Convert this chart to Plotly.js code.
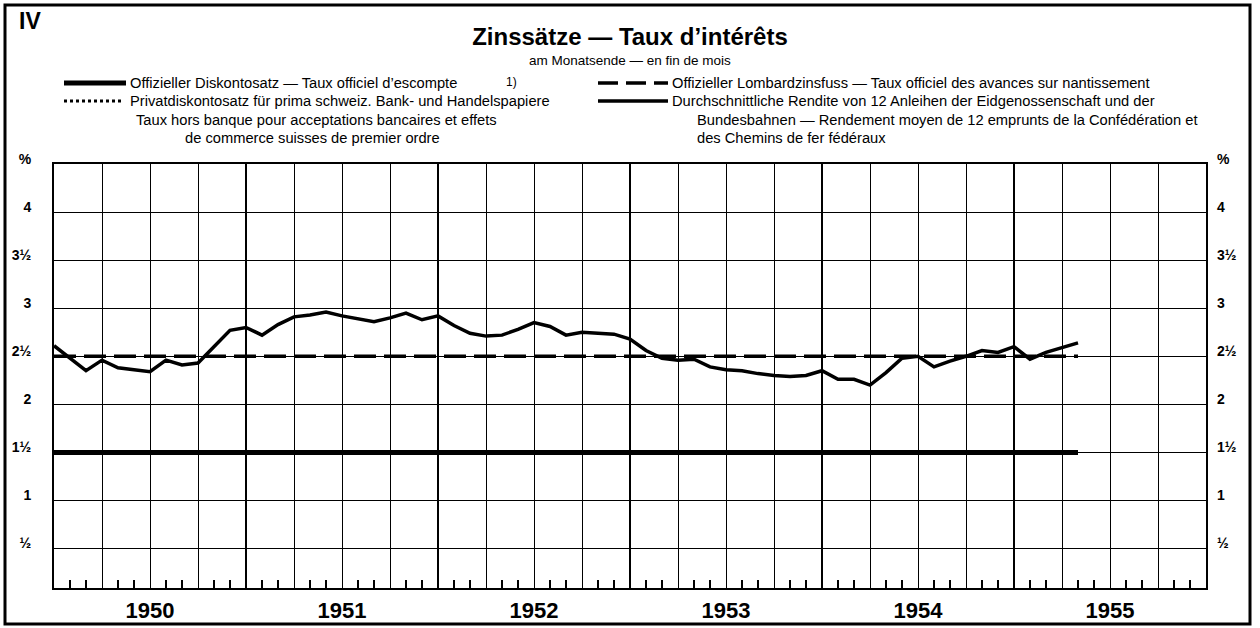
<!DOCTYPE html>
<html><head><meta charset="utf-8">
<script src="https://cdn.plot.ly/plotly-3.0.1.min.js"></script>
<style>html,body{margin:0;padding:0;background:#fff}#chart{width:1260px;height:628px}</style>
</head><body><div id="chart"></div>
<script>
// Month index: 0 = end of Dec 1949 (left edge), 12 = end of Dec 1950, ... 64 = end of Apr 1955
const monthIndex = [0,1,2,3,4,5,6,7,8,9,10,11,12,13,14,15,16,17,18,19,20,21,22,23,24,25,26,27,28,29,30,31,32,33,34,35,36,37,38,39,40,41,42,43,44,45,46,47,48,49,50,51,52,53,54,55,56,57,58,59,60,61,62,63,64];
const bondYield = [2.61,2.48,2.35,2.46,2.38,2.36,2.34,2.46,2.41,2.43,2.60,2.77,
                   2.80,2.72,2.83,2.91,2.93,2.96,2.92,2.89,2.86,2.90,2.95,2.88,
                   2.92,2.82,2.74,2.71,2.72,2.78,2.85,2.81,2.72,2.75,2.74,2.73,
                   2.68,2.56,2.48,2.46,2.47,2.39,2.36,2.35,2.32,2.30,2.29,2.30,
                   2.35,2.26,2.26,2.20,2.33,2.48,2.50,2.39,2.45,2.50,2.56,2.54,
                   2.60,2.47,2.54,2.59,2.64];
const rateMonths = [0, 64];
const officialDiscount = [1.5, 1.5];
const privateDiscount = [1.5, 1.5];
const lombardRate = [2.5, 2.5];
const yTickVals = [0.5,1,1.5,2,2.5,3,3.5,4,4.5];
const yTickText = ['½','1','1½','2','2½','3','3½','4','%'];
const yearTickVals = [6,18,30,42,54,66];
const yearLabels = ['1950','1951','1952','1953','1954','1955'];

const FONT = 'Liberation Sans, Arial, Helvetica, sans-serif';
const L = 54, R = 1206, T = 164, B = 588;
const fx = p => (p - L) / (R - L);
const fy = p => (B - p) / (B - T);

const traces = [
  {x: rateMonths, y: privateDiscount, mode: 'lines', line: {color: '#000', width: 3, dash: 'dot'}, hoverinfo: 'skip'},
  {x: rateMonths, y: officialDiscount, mode: 'lines', line: {color: '#000', width: 5}, hoverinfo: 'skip'},
  {x: rateMonths, y: lombardRate, mode: 'lines', line: {color: '#000', width: 3.5, dash: '22px,8px'}, hoverinfo: 'skip'},
  {x: monthIndex, y: bondYield, mode: 'lines', line: {color: '#000', width: 3.5}, hoverinfo: 'skip'}
];

const legendFont = {family: FONT, size: 14.7, color: '#000'};
const ann = (x, y, text, opts) => Object.assign({xref: 'paper', yref: 'paper', x: fx(x), y: fy(y), text: text, showarrow: false, xanchor: 'left', yanchor: 'middle', font: legendFont}, opts || {});

const annotations = [
  ann(17, 21, 'IV', {font: {family: FONT, size: 23, weight: 'bold', color: '#000'}}),
  ann(630, 61, 'am Monatsende — en fin de mois', {xanchor: 'center', font: {family: FONT, size: 13.5, color: '#000'}}),
  ann(128, 83, 'Offizieller Diskontosatz — Taux officiel d\u2019escompte'),
  ann(504, 82, '1)', {font: {family: FONT, size: 12, color: '#000'}}),
  ann(128, 101, 'Privatdiskontosatz für prima schweiz. Bank- und Handelspapiere'),
  ann(316, 120, 'Taux hors banque pour acceptations bancaires et effets', {xanchor: 'center'}),
  ann(312, 138, 'de commerce suisses de premier ordre', {xanchor: 'center'}),
  ann(670, 83, 'Offizieller Lombardzinsfuss — Taux officiel des avances sur nantissement'),
  ann(670, 101, 'Durchschnittliche Rendite von 12 Anleihen der Eidgenossenschaft und der'),
  ann(695, 120, 'Bundesbahnen — Rendement moyen de 12 emprunts de la Confédération et'),
  ann(695, 138, 'des Chemins de fer fédéraux')
];

const shapeLine = (x0, x1, y, w, dash) => ({type: 'line', xref: 'paper', yref: 'paper', x0: fx(x0), x1: fx(x1), y0: fy(y), y1: fy(y), line: {color: '#000', width: w, dash: dash || 'solid'}});
const shapes = [
  {type: 'rect', xref: 'paper', yref: 'paper', x0: fx(5), x1: fx(1250), y0: fy(624), y1: fy(5), line: {color: '#000', width: 3}},
  shapeLine(64, 126, 83, 5),
  shapeLine(64, 124, 101, 3, 'dot'),
  shapeLine(598, 668, 83, 3.5, '20px,8px'),
  shapeLine(598, 668, 101, 3.5)
];

const layout = {
  width: 1260, height: 628,
  margin: {l: L, r: 1260 - R, t: T, b: 628 - B, pad: 0},
  paper_bgcolor: '#fff', plot_bgcolor: '#fff',
  showlegend: false,
  font: {family: FONT, color: '#000'},
  title: {text: 'Zinssätze — Taux d\u2019intérêts', x: 0.5, xanchor: 'center', y: 1 - 37/628, yanchor: 'middle', yref: 'container', font: {family: FONT, size: 24, weight: 'bold', color: '#000'}},
  xaxis: {range: [0, 72], tickmode: 'linear', tick0: 0, dtick: 3, showgrid: true, gridcolor: '#000', gridwidth: 1,
          showticklabels: false, ticks: '', zeroline: false, showline: true, linecolor: '#000', linewidth: 2, mirror: true,
          minor: {tickmode: 'linear', tick0: 0, dtick: 1, ticks: 'inside', ticklen: 8, tickwidth: 1.5, tickcolor: '#000', showgrid: false}},
  xaxis2: {range: [0, 72], overlaying: 'x', anchor: 'y', tickmode: 'linear', tick0: 0, dtick: 12, showgrid: true, gridcolor: '#000', gridwidth: 2.8,
           showticklabels: false, ticks: '', zeroline: false, showline: false},
  xaxis3: {range: [0, 72], overlaying: 'x', anchor: 'y', side: 'bottom', tickmode: 'array', tickvals: yearTickVals, ticktext: yearLabels,
           showgrid: false, ticks: '', zeroline: false, showline: false, ticklabelstandoff: 7,
           tickfont: {family: FONT, size: 22, weight: 'bold', color: '#000'}},
  yaxis: {range: [0.09, 4.5], tickmode: 'array', tickvals: yTickVals, ticktext: yTickText, showgrid: true, gridcolor: '#000', gridwidth: 1,
          ticks: '', zeroline: false, showline: true, linecolor: '#000', linewidth: 2, mirror: true, ticklabelstandoff: 18, ticklabelshift: -5,
          tickfont: {family: FONT, size: 14, weight: 'bold', color: '#000'}},
  yaxis2: {range: [0.09, 4.5], overlaying: 'y', side: 'right', anchor: 'x', tickmode: 'array', tickvals: yTickVals, ticktext: yTickText,
           showgrid: false, ticks: '', zeroline: false, showline: false, ticklabelstandoff: 10, ticklabelshift: -5,
           tickfont: {family: FONT, size: 14, weight: 'bold', color: '#000'}},
  annotations: annotations,
  shapes: shapes
};

traces.push({x: [], y: [], xaxis: 'x2', yaxis: 'y', hoverinfo: 'skip'});
traces.push({x: [], y: [], xaxis: 'x3', yaxis: 'y2', hoverinfo: 'skip'});

Plotly.newPlot('chart', traces, layout, {staticPlot: true, displayModeBar: false});
</script>
</body></html>
